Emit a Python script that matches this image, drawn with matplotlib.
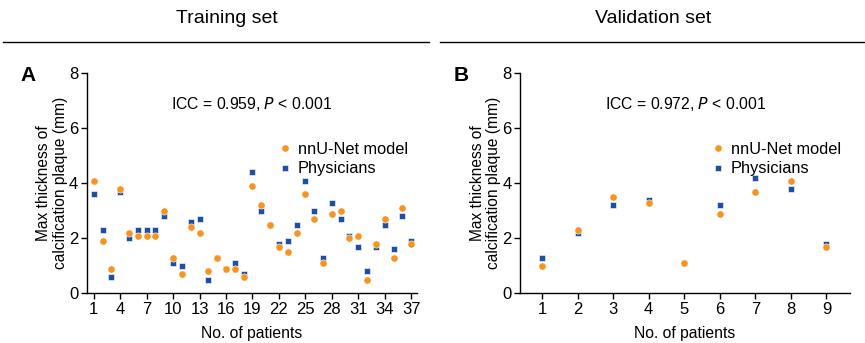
import matplotlib
matplotlib.use("Agg")
import matplotlib.pyplot as plt
import numpy as np

plt.rcParams['font.family'] = ['Liberation Sans', 'DejaVu Sans']

# training set (37 patients)
train_model = [4.1, 1.9, 0.9, 3.8, 2.2, 2.1, 2.1, 2.1, 3.0, 1.3, 0.7, 2.4, 2.2, 0.8, 1.3, 0.9, 0.9, 0.6, 3.9,
               3.2, 2.5, 1.7, 1.5, 2.2, 3.6, 2.7, 1.1, 2.9, 3.0, 2.0, 2.1, 0.5, 1.8, 2.7, 1.3, 3.1, 1.8]
train_phys = [3.6, 2.3, 0.6, 3.7, 2.0, 2.3, 2.3, 2.3, 2.8, 1.1, 1.0, 2.6, 2.7, 0.5, 1.3, 0.9, 1.1, 0.7, 4.4,
              3.0, 2.5, 1.8, 1.9, 2.5, 4.1, 3.0, 1.3, 3.3, 2.7, 2.1, 1.7, 0.8, 1.7, 2.5, 1.6, 2.8, 1.9]
train_ticks = list(range(1, 38, 3))

# validation set (9 patients)
val_model = [1.0, 2.3, 3.5, 3.3, 1.1, 2.9, 3.7, 4.1, 1.7]
val_phys = [1.3, 2.2, 3.2, 3.4, 1.1, 3.2, 4.2, 3.8, 1.8]
val_ticks = list(range(1, 10))

orange = '#F7931E'
blue = '#1F4FA3'

fig = plt.figure(figsize=(8.65, 3.43), dpi=100)

panels = [
    (0.1002, 0.482, train_model, train_phys, train_ticks, (0.2, 37.65), "ICC = 0.959, ", "A", "Training set"),
    (0.601, 0.983, val_model, val_phys, val_ticks, (0.375, 9.67), "ICC = 0.972, ", "B", "Validation set"),
]

for left, right, model, phys, ticks, xlim, icc, letter, header in panels:
    ax = fig.add_axes([left, 0.145, right - left, 0.786 - 0.145])
    x = np.arange(1, len(model) + 1)
    hp, = ax.plot(x, phys, 's', color=blue, markersize=5, markeredgecolor='white',
                  markeredgewidth=0.4, linestyle='none', clip_on=False)
    hm, = ax.plot(x, model, 'o', color=orange, markersize=5.2, markeredgecolor='white',
                  markeredgewidth=0.4, linestyle='none', clip_on=False)
    ax.set_xlim(*xlim)
    ax.set_ylim(0, 8)
    ax.set_xticks(ticks)
    ax.set_yticks([0, 2, 4, 6, 8])
    ax.spines['top'].set_visible(False)
    ax.spines['right'].set_visible(False)
    for s in ['left', 'bottom']:
        ax.spines[s].set_linewidth(1.0)
    ax.tick_params(axis='both', labelsize=12, length=4, width=1.0, pad=2)
    ax.set_xlabel('No. of patients', fontsize=11.3, labelpad=7)
    ax.set_ylabel('Max thickness of\ncalcification plaque (mm)', fontsize=11.2, labelpad=1,
                  linespacing=1.1)
    ax.text(0.5, 0.86, icc + r'$\it{P}$' + ' < 0.001', transform=ax.transAxes,
            ha='center', va='center', fontsize=11.3)
    ax.legend([hm, hp], ['nnU-Net model', 'Physicians'], loc='upper left',
              bbox_to_anchor=(0.55, 0.72), frameon=False, fontsize=11.8,
              handletextpad=0.2, labelspacing=0.3, handlelength=1.2, borderaxespad=0)

    fig.text(left - 0.077, 0.78, letter, fontsize=15, fontweight='bold', va='center', ha='left')

tr_center = 227 / 865
va_center = 653 / 865
fig.text(tr_center, 0.945, 'Training set', fontsize=14, ha='center', va='center')
fig.text(va_center, 0.945, 'Validation set', fontsize=14, ha='center', va='center')
fig.add_artist(plt.Line2D([3 / 865, 429 / 865], [0.878, 0.878], color='black', linewidth=1.0))
fig.add_artist(plt.Line2D([440 / 865, 864 / 865], [0.878, 0.878], color='black', linewidth=1.0))

fig.savefig('out.png', dpi=100)
